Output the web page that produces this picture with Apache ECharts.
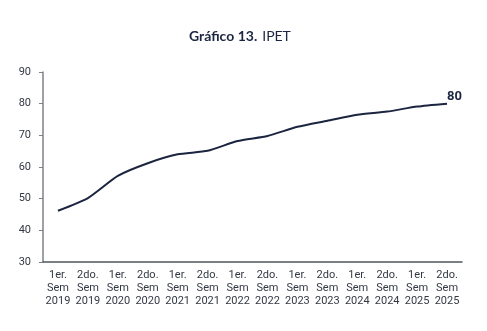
<!DOCTYPE html>
<html>
<head>
<meta charset="utf-8">
<script src="https://cdn.jsdelivr.net/npm/echarts@6/dist/echarts.min.js"></script>
<style>
  html, body { margin: 0; padding: 0; background: #fff; }
  #chart { width: 487px; height: 331px; }
</style>
</head>
<body>
<div id="chart"></div>
<script>
// Semesters and IPET index values
const semesters = [
  '1er.\nSem\n2019', '2do.\nSem\n2019',
  '1er.\nSem\n2020', '2do.\nSem\n2020',
  '1er.\nSem\n2021', '2do.\nSem\n2021',
  '1er.\nSem\n2022', '2do.\nSem\n2022',
  '1er.\nSem\n2023', '2do.\nSem\n2023',
  '1er.\nSem\n2024', '2do.\nSem\n2024',
  '1er.\nSem\n2025', '2do.\nSem\n2025'
];
const ipet = [46.2, 50.2, 57.2, 61.2, 64.0, 65.1, 68.2, 69.8, 72.7, 74.6, 76.5, 77.5, 79.1, 80];
const yTicks = { min: 30, max: 90, step: 10 };

const navy = '#1b2540';
const chart = echarts.init(document.getElementById('chart'));
chart.setOption({
  animation: false,
  title: {
    text: '{b|Gráfico 13.} {r|IPET}',
    left: 184,
    top: 22,
    textStyle: {
      rich: {
        b: { fontFamily: 'Lato', fontWeight: 'bold', fontSize: 14, color: navy },
        r: { fontFamily: 'Lato', fontWeight: 'normal', fontSize: 14, color: navy }
      }
    }
  },
  grid: { left: 43, right: 25, top: 72, bottom: 69, containLabel: false },
  xAxis: {
    type: 'category',
    data: semesters,
    boundaryGap: true,
    axisLine: { lineStyle: { color: '#50565f', width: 1.5 } },
    axisTick: { show: false },
    axisLabel: {
      interval: 0,
      margin: 7,
      fontFamily: 'Roboto',
      fontSize: 11,
      lineHeight: 13,
      color: '#333842'
    }
  },
  yAxis: {
    type: 'value',
    min: yTicks.min,
    max: yTicks.max,
    interval: yTicks.step,
    splitLine: { show: false },
    axisLine: { show: true, lineStyle: { color: '#7c8089', width: 1.5 } },
    axisTick: { show: true, length: 4, lineStyle: { color: '#7c8089' } },
    axisLabel: {
      margin: 12,
      fontFamily: 'Roboto',
      fontSize: 11,
      color: '#333842'
    }
  },
  series: [{
    type: 'line',
    data: ipet,
    smooth: 0.2,
    symbol: 'none',
    lineStyle: { color: navy, width: 2 },
    endLabel: {
      show: true,
      formatter: p => String(Math.round(p.value)),
      offset: [0, -7],
      fontFamily: 'Roboto',
      fontWeight: 'bold',
      fontSize: 13,
      color: navy,
      distance: 0
    }
  }]
});
</script>
</body>
</html>
